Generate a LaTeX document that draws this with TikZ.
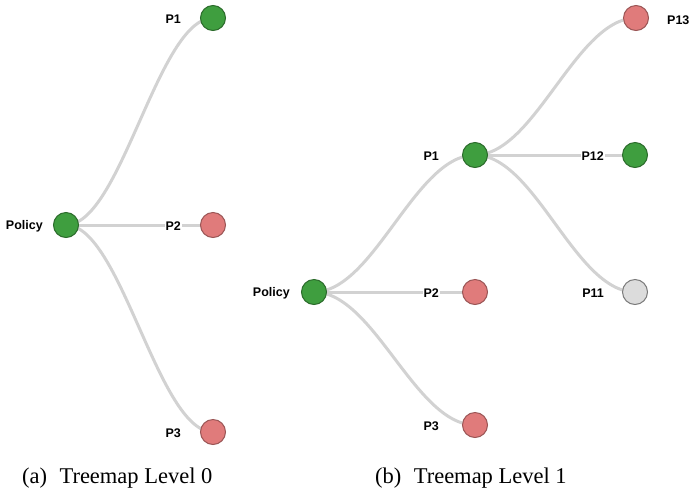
\documentclass[tikz,border=0pt]{standalone}
\usepackage{fontspec}
\setmainfont{Liberation Serif}
\setsansfont{Liberation Sans}
\pgfdeclarelayer{bg}
\pgfsetlayers{bg,main}
\definecolor{gfill}{HTML}{3F9E3F}
\definecolor{gline}{HTML}{2B6B2B}
\definecolor{rfill}{HTML}{E07B7B}
\definecolor{rline}{HTML}{9A5555}
\definecolor{nfill}{HTML}{DCDCDC}
\definecolor{nline}{HTML}{7A7A7A}
\definecolor{edgec}{HTML}{D2D2D2}
\begin{document}
\begin{tikzpicture}[x=1pt,y=-1pt,
  dot/.style={circle,minimum size=25pt,inner sep=0pt,line width=1pt},
  gdot/.style={dot,fill=gfill,draw=gline},
  rdot/.style={dot,fill=rfill,draw=rline},
  ndot/.style={dot,fill=nfill,draw=nline},
  lbl/.style={font=\sffamily\bfseries\fontsize{12.5}{13}\selectfont,fill=white,inner sep=1pt},
  edge/.style={draw=edgec,line width=3pt},
  captxt/.style={font=\fontsize{22.5}{26}\selectfont,inner sep=0pt,anchor=base west}]
\useasboundingbox (0,0) rectangle (693,491);
% panel a
\node[gdot] (a0) at (66,225) {};
\node[gdot] (a1) at (213,18) {};
\node[rdot] (a2) at (213,225) {};
\node[rdot] (a3) at (213,432) {};
\node[lbl,anchor=east] (la0) at (44,226) {Policy};
\node[lbl,anchor=east] (la1) at (182,19) {P1};
\node[lbl,anchor=east] (la2) at (182,226) {P2};
\node[lbl,anchor=east] (la3) at (182,433) {P3};
% panel b
\node[gdot] (b0) at (314,292) {};
\node[gdot] (b1) at (475,155) {};
\node[rdot] (b2) at (475,292) {};
\node[rdot] (b3) at (475,425) {};
\node[rdot] (b13) at (636,18) {};
\node[gdot] (b12) at (635,155) {};
\node[ndot] (b11) at (635,292) {};
\node[lbl,anchor=east] (lb0) at (291,293) {Policy};
\node[lbl,anchor=east] (lb1) at (440,156) {P1};
\node[lbl,anchor=east] (lb2) at (440,293) {P2};
\node[lbl,anchor=east] (lb3) at (440,426) {P3};
\node[lbl,anchor=west] (lb13) at (666,20) {P13};
\node[lbl,anchor=east] (lb12) at (605,156) {P12};
\node[lbl,anchor=east] (lb11) at (605,293) {P11};
\begin{pgfonlayer}{bg}
\draw[edge] (a0.center) .. controls +(55,0) and +(-55,0) .. (a1.center);
\draw[edge] (a0.center) -- (a2.center);
\draw[edge] (a0.center) .. controls +(55,0) and +(-55,0) .. (a3.center);
\draw[edge] (b0.center) .. controls +(60,0) and +(-60,0) .. (b1.center);
\draw[edge] (b0.center) -- (b2.center);
\draw[edge] (b0.center) .. controls +(60,0) and +(-60,0) .. (b3.center);
\draw[edge] (b1.center) .. controls +(60,0) and +(-60,0) .. (b13.center);
\draw[edge] (b1.center) -- (b12.center);
\draw[edge] (b1.center) .. controls +(60,0) and +(-60,0) .. (b11.center);
\end{pgfonlayer}
% captions
\node[captxt] (ca) at (22,483) {(a)\hspace{0.55em}Treemap Level 0};
\node[captxt] (cb) at (375,483) {(b)\hspace{0.55em}Treemap Level 1};
\end{tikzpicture}
\end{document}
